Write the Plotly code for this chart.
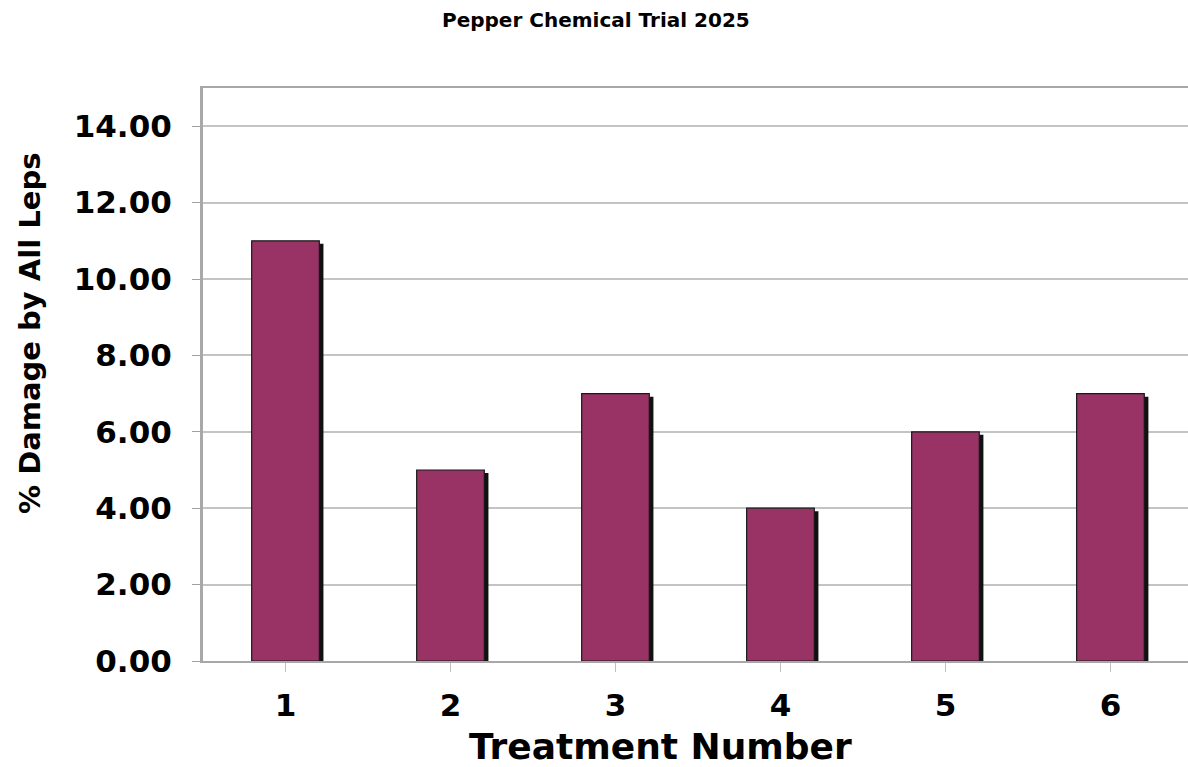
import plotly.graph_objects as go

# Treatment results
treatments = ["1", "2", "3", "4", "5", "6"]
damage_pct = [11.0, 5.0, 7.0, 4.0, 6.0, 7.0]
y_ticks = [0, 2, 4, 6, 8, 10, 12, 14]
y_tick_labels = [f"{v:.2f}" for v in y_ticks]

FONT = "DejaVu Sans"
BAR_COLOR = "#993366"
GRID = "#c4c4c4"
AXIS = "#a8a8a8"

x_idx = list(range(len(treatments)))
BAR_W = 0.41

fig = go.Figure()

# drop shadow behind each bar
fig.add_trace(go.Bar(
    x=x_idx, y=damage_pct, base=-0.08,
    width=BAR_W, offset=-BAR_W / 2 + 0.025,
    marker=dict(color="#111111", line=dict(width=0)),
    hoverinfo="skip", showlegend=False,
))

# main bars
fig.add_trace(go.Bar(
    x=x_idx, y=damage_pct,
    width=BAR_W, offset=-BAR_W / 2,
    marker=dict(color=BAR_COLOR, line=dict(color="#1a1a1a", width=1.2)),
    showlegend=False,
))

fig.update_layout(
    width=1188, height=767,
    margin=dict(l=203, r=0, t=88, b=106),
    paper_bgcolor="white", plot_bgcolor="white",
    barmode="overlay",
    font=dict(family=FONT, color="black"),
    xaxis=dict(
        range=[-0.5, 5.47],
        tickmode="array", tickvals=x_idx, ticktext=treatments,
        tickfont=dict(family=FONT, size=31, color="black", weight="bold"),
        showgrid=False, zeroline=False,
        showline=True, linecolor=AXIS, linewidth=2, mirror=True,
        ticks="outside", tickson="boundaries", ticklen=9, tickcolor="#c0c0c0", tickwidth=1,
        ticklabelstandoff=7,
    ),
    yaxis=dict(
        range=[0, 15],
        tickmode="array", tickvals=y_ticks, ticktext=y_tick_labels,
        tickfont=dict(family=FONT, size=31, color="black", weight="bold"),
        showgrid=True, gridcolor=GRID, gridwidth=2,
        zeroline=False,
        showline=True, linecolor=AXIS, linewidth=3,
        ticks="outside", ticklen=8, tickcolor="#a0a0a0", tickwidth=1,
        ticklabelstandoff=14,
    ),
)

# titles placed in page pixel coordinates, converted to paper fractions
W, H = 1188, 767
PL, PR, PT, PB = 203, 0, 88, 106
PW, PH = W - PL - PR, H - PT - PB


def px_to_paper(px, py):
    return (px - PL) / PW, (H - PB - py) / PH


titles = [
    ("<b>Pepper Chemical Trial 2025</b>", 596, 20, 20, 0),
    ("<b>Treatment Number</b>", 660, 746, 36, 0),
    ("<b>% Damage by All Leps</b>", 30, 334, 29, -90),
]
for text, px, py, size, angle in titles:
    ax, ay = px_to_paper(px, py)
    fig.add_annotation(
        text=text, x=ax, y=ay, xref="paper", yref="paper",
        showarrow=False, textangle=angle,
        font=dict(family=FONT, size=size, color="black"),
        xanchor="center", yanchor="middle",
    )

fig.write_html("out.html")
